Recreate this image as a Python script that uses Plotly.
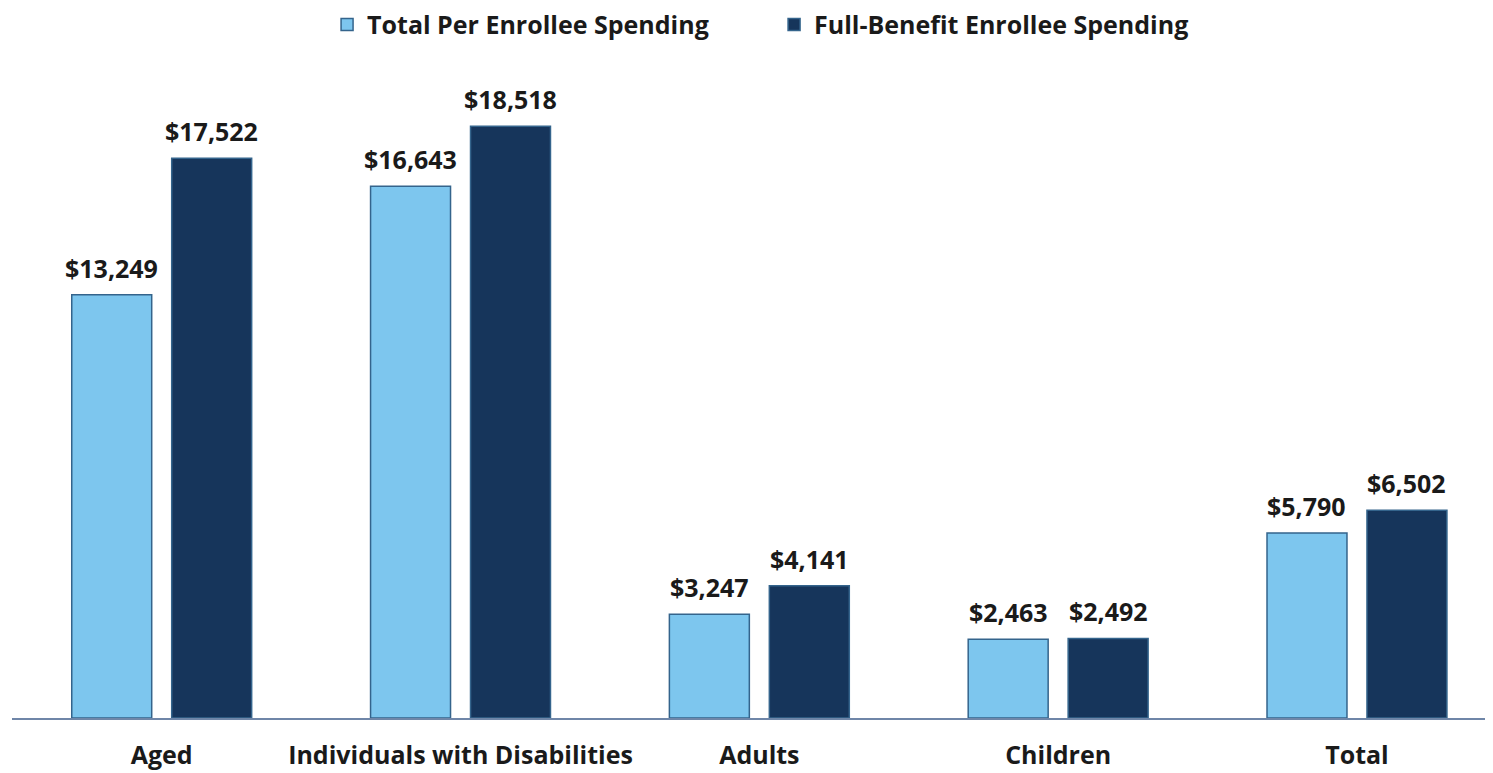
import plotly.graph_objects as go

categories = ["Aged", "Individuals with Disabilities", "Adults", "Children", "Total"]
total_per_enrollee = [13249, 16643, 3247, 2463, 5790]
full_benefit = [17522, 18518, 4141, 2492, 6502]
series_names = ["Total Per Enrollee Spending", "Full-Benefit Enrollee Spending"]

FONT = "Open Sans"
LIGHT = "#7DC6EE"
DARK = "#16355B"
TXT = "#1a1a1a"

fig = go.Figure()
series = [(series_names[0], total_per_enrollee, LIGHT, -50),
          (series_names[1], full_benefit, DARK, 50)]
for name, vals, col, _ in series:
    fig.add_trace(go.Bar(
        x=categories, y=vals, name=name,
        marker=dict(color=col, line=dict(color="#34648C", width=1.5)),
    ))

# value labels above each bar
for name, vals, col, dx in series:
    for c, v in zip(categories, vals):
        fig.add_annotation(x=c, y=v, text=f"${v:,}", showarrow=False,
                           xshift=dx, yshift=8, yanchor="bottom",
                           font=dict(family=FONT, size=25, color=TXT, weight="bold"))

fig.update_layout(
    width=1493, height=773,
    paper_bgcolor="white", plot_bgcolor="white",
    margin=dict(l=4, r=0, t=71, b=63, autoexpand=False),
    barmode="group", bargap=0.331, bargroupgap=0.2,
    font=dict(family=FONT, color=TXT),
    legend=dict(orientation="h", xref="paper", x=0.2116, xanchor="left",
                yref="paper", y=1.085, yanchor="middle",
                font=dict(family=FONT, size=25, color=TXT, weight="bold"),
                itemwidth=30, traceorder="normal",
                entrywidth=402, entrywidthmode="pixels"),
    showlegend=True,
)
fig.update_xaxes(range=[-0.501, 4.482], showline=True, linecolor="#6F86A8", linewidth=2,
                 ticks="", ticklabelstandoff=14,
                 tickfont=dict(family=FONT, size=25, color=TXT, weight="bold"),
                 showgrid=False, automargin=False)
fig.update_yaxes(range=[0, 20000], visible=False, showgrid=False, zeroline=False,
                 automargin=False)

fig.write_html("out.html")
